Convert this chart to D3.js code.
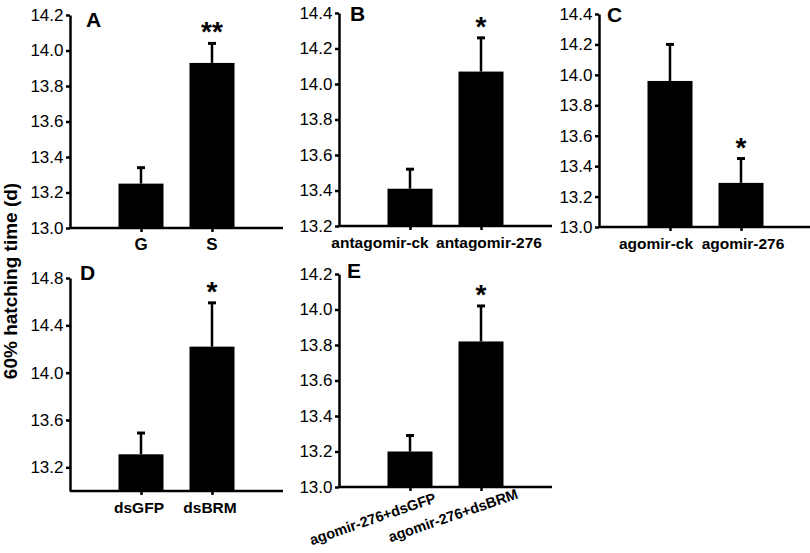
<!DOCTYPE html>
<html><head><meta charset="utf-8">
<script src="https://cdn.jsdelivr.net/npm/d3@7"></script>
<style>body{margin:0;background:#fff}svg{display:block}</style>
</head><body>
<svg id="chart" width="810" height="553"></svg>
<script>
// ---------- DATA ----------
const categoriesA = ["G", "S"];
const valuesA = [13.25, 13.93];
const errorsA = [0.09, 0.11];
const starsA = ["", "**"];
const ticksA = [13.0, 13.2, 13.4, 13.6, 13.8, 14.0, 14.2];

const categoriesB = ["antagomir-ck", "antagomir-276"];
const valuesB = [13.41, 14.07];
const errorsB = [0.11, 0.19];
const starsB = ["", "*"];
const ticksB = [13.2, 13.4, 13.6, 13.8, 14.0, 14.2, 14.4];

const categoriesC = ["agomir-ck", "agomir-276"];
const valuesC = [13.96, 13.29];
const errorsC = [0.24, 0.16];
const starsC = ["", "*"];
const ticksC = [13.0, 13.2, 13.4, 13.6, 13.8, 14.0, 14.2, 14.4];

const categoriesD = ["dsGFP", "dsBRM"];
const valuesD = [13.31, 14.22];
const errorsD = [0.18, 0.37];
const starsD = ["", "*"];
const ticksD = [13.2, 13.6, 14.0, 14.4, 14.8];

const categoriesE = ["agomir-276+dsGFP", "agomir-276+dsBRM"];
const valuesE = [13.20, 13.82];
const errorsE = [0.09, 0.20];
const starsE = ["", "*"];
const ticksE = [13.0, 13.2, 13.4, 13.6, 13.8, 14.0, 14.2];

const yTitle = "60% hatching time (d)";

// ---------- LAYOUT ----------
const W = 213, H = 213, BW = 45;
const panels = [
  {label:"A", cats:categoriesA, vals:valuesA, errs:errorsA, stars:starsA, ticks:ticksA, domain:[13.0,14.2], x0:70,  y0:228, labelDx:[0,0], labelSize:17, lblOff:[16,12]},
  {label:"B", cats:categoriesB, vals:valuesB, errs:errorsB, stars:starsB, ticks:ticksB, domain:[13.2,14.4], x0:339, y0:226, labelDx:[-30,8], labelSize:15.5, lblOff:[11,8]},
  {label:"C", cats:categoriesC, vals:valuesC, errs:errorsC, stars:starsC, ticks:ticksC, domain:[13.0,14.4], x0:599, y0:227, labelDx:[-14,2], labelSize:15.5, lblOff:[8,8]},
  {label:"D", cats:categoriesD, vals:valuesD, errs:errorsD, stars:starsD, ticks:ticksD, domain:[13.0,14.8], x0:70,  y0:491, labelDx:[-2,-2], labelSize:15.5, lblOff:[10,2]},
  {label:"E", cats:categoriesE, vals:valuesE, errs:errorsE, stars:starsE, ticks:ticksE, domain:[13.0,14.2], x0:339, y0:487, labelDx:[0,0], labelSize:14.5, lblOff:[8,4], rotate:true}
];

const FONT = "'Liberation Sans', Arial, Helvetica, sans-serif";
const svg = d3.select("#chart");
svg.append("rect").attr("width",810).attr("height",553).attr("fill","#fff");

function drawPanel(p) {
  const x = d3.scalePoint().domain(p.cats).range([p.x0, p.x0 + W]).padding(1);
  const y = d3.scaleLinear().domain(p.domain).range([p.y0, p.y0 - H]);
  const g = svg.append("g");

  // bars
  g.selectAll("rect.bar").data(p.cats).join("rect")
    .attr("class","bar")
    .attr("x", c => x(c) - BW/2)
    .attr("y", (c,i) => y(p.vals[i]))
    .attr("width", BW)
    .attr("height", (c,i) => y(p.domain[0]) - y(p.vals[i]))
    .attr("fill", "#000");

  // error bars
  g.selectAll("line.err").data(p.cats).join("line")
    .attr("class","err")
    .attr("x1", c => x(c)).attr("x2", c => x(c))
    .attr("y1", (c,i) => y(p.vals[i]))
    .attr("y2", (c,i) => y(p.vals[i] + p.errs[i]))
    .attr("stroke","#000").attr("stroke-width",2.5);
  g.selectAll("line.cap").data(p.cats).join("line")
    .attr("class","cap")
    .attr("x1", c => x(c) - 4).attr("x2", c => x(c) + 4)
    .attr("y1", (c,i) => y(p.vals[i] + p.errs[i]))
    .attr("y2", (c,i) => y(p.vals[i] + p.errs[i]))
    .attr("stroke","#000").attr("stroke-width",3);

  // stars
  g.selectAll("text.star").data(p.cats).join("text")
    .attr("class","star")
    .attr("x", c => x(c))
    .attr("y", (c,i) => y(p.vals[i] + p.errs[i]) - 2)
    .attr("text-anchor","middle")
    .attr("font-family", FONT).attr("font-weight","bold").attr("font-size", 28)
    .text((c,i) => p.stars[i]);

  // y axis
  const ya = g.append("g").attr("transform", `translate(${p.x0},0)`)
    .call(d3.axisLeft(y).tickValues(p.ticks).tickFormat(d3.format(".1f")).tickSize(4).tickSizeOuter(0).tickPadding(2.5));
  ya.selectAll("path,line").attr("stroke","#000").attr("stroke-width",2.5);
  ya.selectAll("text").attr("font-family", FONT).attr("font-size", 17).attr("fill","#000");

  // x axis
  const xa = g.append("g").attr("transform", `translate(0,${p.y0})`)
    .call(d3.axisBottom(x).tickSize(4).tickSizeOuter(0).tickFormat(""));
  xa.select("path.domain").attr("d", `M${p.x0},0H${p.x0 + W}`);
  xa.selectAll("path,line").attr("stroke","#000").attr("stroke-width",2.5);

  // x labels
  if (p.rotate) {
    const rdx = [27, 38], rdy = [15, 11];
    g.selectAll("text.xl").data(p.cats).join("text")
      .attr("class","xl")
      .attr("transform", (c,i) => `translate(${x(c) + rdx[i]},${p.y0 + rdy[i]}) rotate(-19)`)
      .attr("text-anchor","end")
      .attr("font-family", FONT).attr("font-weight","bold").attr("font-size", p.labelSize)
      .text(c => c);
  } else {
    g.selectAll("text.xl").data(p.cats).join("text")
      .attr("class","xl")
      .attr("x", (c,i) => x(c) + p.labelDx[i])
      .attr("y", p.y0 + 22)
      .attr("text-anchor","middle")
      .attr("font-family", FONT).attr("font-weight","bold").attr("font-size", p.labelSize)
      .text(c => c);
  }

  // panel label
  g.append("text")
    .attr("x", p.x0 + p.lblOff[0])
    .attr("y", p.y0 - H + p.lblOff[1])
    .attr("font-family", FONT).attr("font-weight","bold").attr("font-size", 21)
    .text(p.label);
}

panels.forEach(drawPanel);

// shared y-axis title
svg.append("text")
  .attr("transform","translate(17,281) rotate(-90)")
  .attr("text-anchor","middle")
  .attr("font-family", FONT).attr("font-weight","bold").attr("font-size", 19)
  .text(yTitle);
</script>
</body></html>
